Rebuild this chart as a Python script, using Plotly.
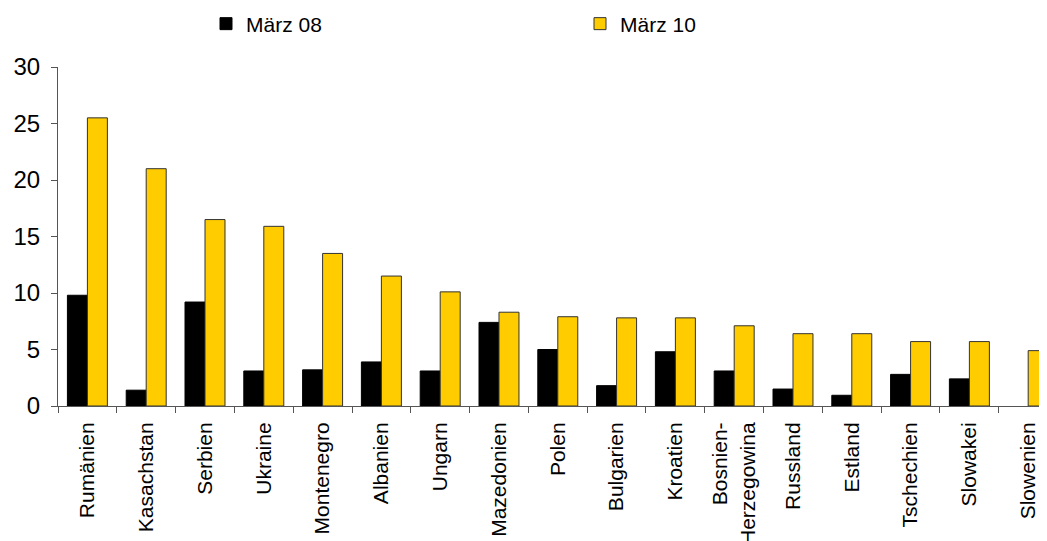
import plotly.graph_objects as go

# Länder und Werte
laender = ["Rumänien", "Kasachstan", "Serbien", "Ukraine", "Montenegro", "Albanien",
           "Ungarn", "Mazedonien", "Polen", "Bulgarien", "Kroatien",
           "Bosnien-<br>Herzegowina", "Russland", "Estland", "Tschechien",
           "Slowakei", "Slowenien"]
maerz08 = [9.8, 1.4, 9.2, 3.1, 3.2, 3.9, 3.1, 7.4, 5.0, 1.8, 4.8, 3.1, 1.5, 0.95, 2.8, 2.4, None]
maerz10 = [25.5, 21.0, 16.5, 15.9, 13.5, 11.5, 10.1, 8.3, 7.9, 7.8, 7.8, 7.1, 6.4, 6.4, 5.7, 5.7, 4.9]

fig = go.Figure()
fig.add_trace(go.Bar(x=laender, y=maerz08, name="März 08",
                     marker=dict(color="black", line=dict(color="black", width=1))))
fig.add_trace(go.Bar(x=laender, y=maerz10, name="März 10",
                     marker=dict(color="#FFCC00", line=dict(color="#333333", width=1))))

# Seite hat 8px Rand -> Figur etwas kleiner
fig.update_layout(
    width=1039, height=533,
    margin=dict(l=50, r=0, t=59, b=135, autoexpand=False),
    plot_bgcolor="white", paper_bgcolor="white",
    font=dict(family="Liberation Sans, Arial", color="black"),
    barmode="group", bargap=0.32, bargroupgap=0,
    showlegend=True,
    legend=dict(orientation="h", x=(198 - 50) / 989, y=1 + (59 - 16) / 339, yanchor="middle",
                xanchor="left", font=dict(size=21), entrywidth=329, entrywidthmode="pixels",
                itemwidth=30, bgcolor="rgba(0,0,0,0)"),
    xaxis=dict(range=[-0.5, 16.32], showline=True, linecolor="#555555", linewidth=1,
               ticks="outside", tickson="boundaries", ticklen=6, tickcolor="#555555",
               tickangle=-90, tickfont=dict(size=21), showgrid=False, ticklabelstandoff=7),
    yaxis=dict(range=[0, 30], dtick=5, showline=True, linecolor="#555555", linewidth=1,
               ticks="outside", ticklen=6, tickcolor="#555555", showgrid=False,
               zeroline=False, tickfont=dict(size=24), ticklabelstandoff=6),
)

fig.write_html("out.html")
